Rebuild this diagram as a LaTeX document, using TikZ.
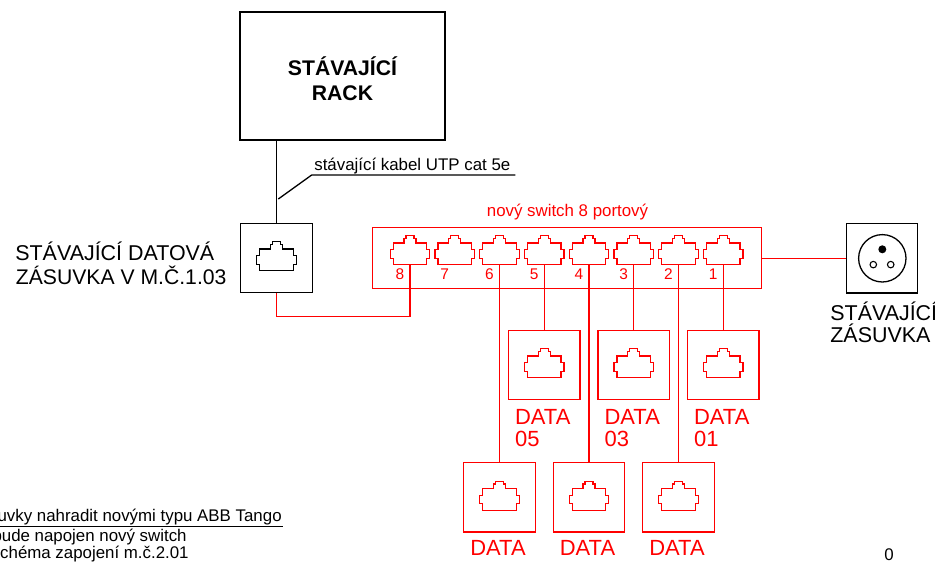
\documentclass[tikz,border=0pt]{standalone}
\usepackage{fontspec}
\setmainfont{Liberation Sans}
\usetikzlibrary{calc}
\tikzset{
	wall/.style={draw, line width=0.026cm, minimum width=1.432cm, minimum height=1.39cm, inner sep=0pt},
	wallred/.style={wall, color=red},
	port/.style={minimum width=0.8cm, minimum height=0.58cm, inner sep=0pt},
	wire/.style={line width=0.026cm, color=red},
	blackwire/.style={line width=0.026cm},
	big/.style={font=\fontsize{12.2}{14}\selectfont, inner sep=0pt, anchor=base west},
	bigred/.style={big, color=red, font=\fontsize{12.5}{14}\selectfont},
	small/.style={font=\fontsize{9.6}{11}\selectfont, inner sep=0pt, anchor=base west},
	num/.style={font=\fontsize{8.8}{10}\selectfont, inner sep=0pt, color=red}
}
\def\portshape(#1)[#2]{\draw[#2,shift={(#1)}] (-16.7,14.7) -- (-16.7,8.3) -- (-19.7,8.3) -- (-19.7,-0.3) -- (-16.7,-0.3) -- (-16.7,-7) -- (-6,-7) -- (-6,-11.5) -- (-4,-11.5) -- (-4,-14.3) -- (4,-14.3) -- (4,-11.5) -- (6,-11.5) -- (6,-7) -- (16.7,-7) -- (16.7,-0.3) -- (19.7,-0.3) -- (19.7,8.3) -- (16.7,8.3) -- (16.7,14.7) -- cycle;}

\begin{document}
\begin{tikzpicture}[x=0.02cm, y=-0.02cm]
		%%%%% START %%%%%
		\useasboundingbox (0,0) rectangle (935,561);
		\clip (0,0) rectangle (935,561);
		
		% stavajici cast
		\node[wall, minimum width=4.1cm, minimum height=2.56cm] (rack) at (342.5,76) {};
		\node[font=\fontsize{12.06}{14}\selectfont\bfseries, inner sep=0pt, align=center] (racktext) at (342.5,78.5) {STÁVAJÍCÍ\\[0pt]RACK};
		\node[wall] (socket) at (276.5,258) {};
		\node[port] (socketport) at (276.5,256) {};
		\portshape(socketport)[blackwire]
		\coordinate (bend) at (311.7,175);
		\coordinate (kabelend) at (515.3,175);
		\coordinate (kabelstart) at (278.3,199);
		\draw[blackwire] (rack.south -| socket) -- (socket.north);
		\draw[blackwire] (kabelstart) -- (bend) -- (kabelend);
		\node[small] (kabel) at (314,170.7) {stávající kabel UTP cat 5e};
		\node[big] (sockettext1) at (15,260) {STÁVAJÍCÍ DATOVÁ};
		\node[big, font=\fontsize{12.05}{14}\selectfont] (sockettext2) at (15.5,284) {ZÁSUVKA V M.Č.1.03};
		
		% zasuvka
		\node[wall] (power) at (882,258.3) {};
		\node[draw, circle, line width=0.026cm, minimum size=0.948cm, inner sep=0pt] (powerring) at (882.3,258.3) {};
		\node[circle, fill=black, minimum size=0.16cm, inner sep=0pt] (powerpin) at (882.3,249.3) {};
		\node[draw, circle, line width=0.022cm, minimum size=0.13cm, inner sep=0pt] (powerhole1) at (873.3,264.6) {};
		\node[draw, circle, line width=0.022cm, minimum size=0.13cm, inner sep=0pt] (powerhole2) at (890.7,264.6) {};
		\node[big] (powertext1) at (830,320) {STÁVAJÍCÍ};
		\node[big] (powertext2) at (830,342) {ZÁSUVKA};
		
		% switch
		\node[draw, wire, minimum width=7.772cm, minimum height=1.212cm, inner sep=0pt] (switch) at (567,258) {};
		\node[small, color=red, anchor=base] (switchtext) at (567.5,216) {nový switch 8 portový};
		\foreach \n/\x in {8/410, 7/454.75, 6/499.5, 5/544.25, 4/589, 3/633.75, 2/678.5, 1/723.25} {
			\node[port] (p\n) at (\x,250) {};
			\portshape(p\n)[wire]
			\node[num] (n\n) at (\x-10,274) {\n};
		}
		\draw[wire] (switch.east |- power) -- (power.west);
		\draw[wire] (socket.south) |- ($(p8.south)+(0,51.7)$) -- (p8.south);
		
		% nove zasuvky
		\foreach \n/\x in {5/544.25, 3/633.75, 1/723.25} {
			\node[wallred] (d\n) at (\x,365) {};
			\node[port] (dp\n) at (\x,363) {};
			\portshape(dp\n)[wire]
			\draw[wire] (p\n.south) -- (d\n.north);
			\node[bigred] (dt\n) at (\x-29.5,424) {DATA};
			\node[bigred] (dn\n) at (\x-29.5,446) {0\n};
		}
		\foreach \n/\x in {6/499.5, 4/589, 2/678.5} {
			\node[wallred] (d\n) at (\x,497.3) {};
			\node[port] (dp\n) at (\x,495.5) {};
			\portshape(dp\n)[wire]
			\draw[wire] (p\n.south) -- (d\n.north);
			\node[bigred] (dt\n) at (\x-29.5,555) {DATA};
		}
		
		% poznamka
		\coordinate (notestart) at (0,526.7);
		\coordinate (noteend) at (283,526.7);
		\draw[blackwire] (notestart) -- (noteend);
		\node[small, anchor=base east] (note1) at (282,521.5) {uvky nahradit novými typu ABB Tango};
		\node[small, anchor=base east] (note2) at (187,541.7) {bude napojen nový switch};
		\node[small, anchor=base east] (note3) at (189,558) {schéma zapojení m.č.2.01};
		\node[small, anchor=base] (pagenum) at (889,560) {0};
		
		%%%%% END %%%%%
	\end{tikzpicture}
\end{document}
